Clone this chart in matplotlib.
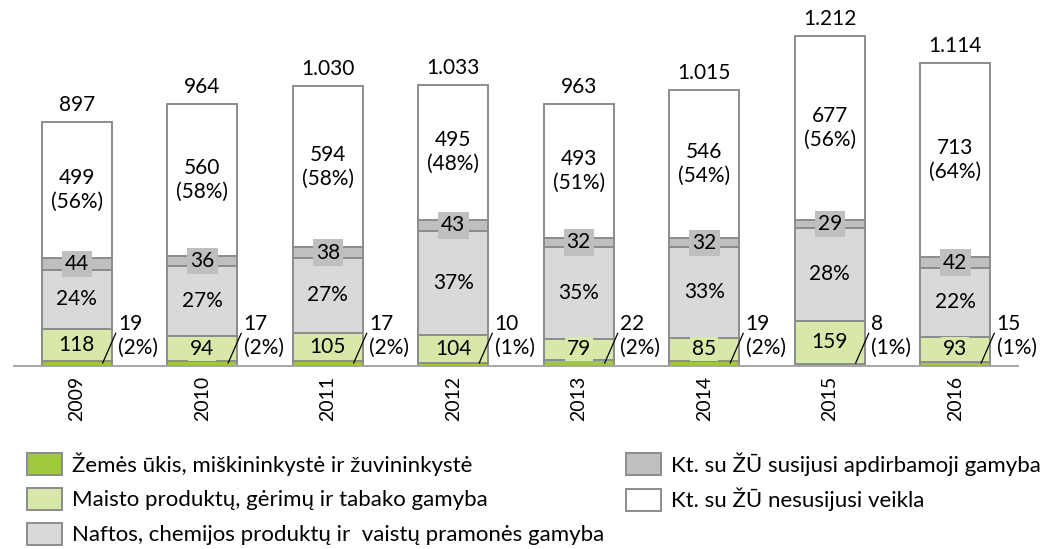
import matplotlib
matplotlib.use('Agg')
import matplotlib.pyplot as plt
from matplotlib.patches import Patch
import numpy as np

plt.rcParams['font.family'] = ['Lato', 'DejaVu Sans']

years = ['2009', '2010', '2011', '2012', '2013', '2014', '2015', '2016']
zemes_ukis = [19, 17, 17, 10, 22, 19, 8, 15]
zemes_pct = [2, 2, 2, 1, 2, 2, 1, 1]
maisto = [118, 94, 105, 104, 79, 85, 159, 93]
naftos = [217, 257, 276, 381, 337, 333, 339, 251]
naftos_pct = [24, 27, 27, 37, 35, 33, 28, 22]
kt_susijusi = [44, 36, 38, 43, 32, 32, 29, 42]
kt_nesusijusi = [499, 560, 594, 495, 493, 546, 677, 713]
kt_nesusijusi_pct = [56, 58, 58, 48, 51, 54, 56, 64]
totals = [897, 964, 1030, 1033, 963, 1015, 1212, 1114]

labels = ['Žemės ūkis, miškininkystė ir žuvininkystė',
          'Maisto produktų, gėrimų ir tabako gamyba',
          'Naftos, chemijos produktų ir  vaistų pramonės gamyba',
          'Kt. su ŽŪ susijusi apdirbamoji gamyba',
          'Kt. su ŽŪ nesusijusi veikla']
colors = ['#A0C83C', '#D8E8A8', '#D9D9DB', '#BFBFBF', '#FFFFFF']
edge = '#8C8C8C'

W, H = 1041, 549
fig = plt.figure(figsize=(W / 100, H / 100), dpi=100)
ax = fig.add_axes([14 / W, 1 - 366 / H, 1004 / W, 366 / H])

x = np.arange(len(years))
width = 0.557
series = [zemes_ukis, maisto, naftos, kt_susijusi, kt_nesusijusi]
bottom = np.zeros(len(years))
bottoms = []
for vals, col in zip(series, colors):
    ax.bar(x, vals, width, bottom=bottom, color=col, edgecolor=edge, linewidth=1.4, zorder=2)
    bottoms.append(bottom.copy())
    bottom = bottom + np.array(vals)

fs = 15
for i in range(len(years)):
    # maisto
    ax.text(x[i], bottoms[1][i] + maisto[i] / 2, str(maisto[i]), ha='center', va='center',
            fontsize=fs, zorder=4,
            bbox=dict(boxstyle='square,pad=0.1', facecolor=colors[1], edgecolor='none'))
    # naftos
    ax.text(x[i], bottoms[2][i] + naftos[i] / 2, '%d%%' % naftos_pct[i], ha='center', va='center',
            fontsize=fs, zorder=4)
    # kt susijusi
    ax.text(x[i], bottoms[3][i] + kt_susijusi[i] / 2, str(kt_susijusi[i]), ha='center', va='center',
            fontsize=fs, zorder=4,
            bbox=dict(boxstyle='square,pad=0.15', facecolor=colors[3], edgecolor='none'))
    # kt nesusijusi
    ax.text(x[i], bottoms[4][i] + kt_nesusijusi[i] / 2, '%d\n(%d%%)' % (kt_nesusijusi[i], kt_nesusijusi_pct[i]),
            ha='center', va='center', fontsize=fs, zorder=4, linespacing=1.25)
    # total
    t = totals[i]
    tl = '{:,}'.format(t).replace(',', '.')
    ax.annotate(tl, (x[i], t), xytext=(0, 5), textcoords='offset points', ha='center', va='bottom',
                fontsize=fs)
    # zemes ukis leader + label
    r = x[i] + width / 2
    ax.plot([r - 0.072, r + 0.032], [11, 120], color='black', lw=0.9, zorder=5)
    ax.text(r + 0.052, 112, '%d\n(%d%%)' % (zemes_ukis[i], zemes_pct[i]), ha='left', va='center',
            fontsize=fs, linespacing=1.25, zorder=4)

ax.set_xlim(-0.5, 7.5)
ax.set_ylim(0, 366 / 0.2721)
ax.set_xticks(x)
ax.set_xticklabels(years, rotation=90, fontsize=14)
ax.tick_params(axis='x', length=0, pad=7)
ax.set_yticks([])
for s in ['top', 'left', 'right']:
    ax.spines[s].set_visible(False)
ax.spines['bottom'].set_color('#A6A6A6')
ax.spines['bottom'].set_linewidth(1.4)
ax.spines['bottom'].set_zorder(3)

handles = [Patch(facecolor=c, edgecolor=edge, linewidth=1.4) for c in colors]
lfs = 16
kw = dict(frameon=False, fontsize=lfs, handlelength=1.58, handleheight=1.13,
          handletextpad=0.45, labelspacing=0.56, borderpad=0, borderaxespad=0)
fig.legend(handles[:3], labels[:3], loc='upper left', bbox_to_anchor=(27 / W, 1 - 452 / H), **kw)
fig.legend(handles[3:], labels[3:], loc='upper left', bbox_to_anchor=(626 / W, 1 - 452 / H), **kw)

fig.savefig('out.png', dpi=100)
